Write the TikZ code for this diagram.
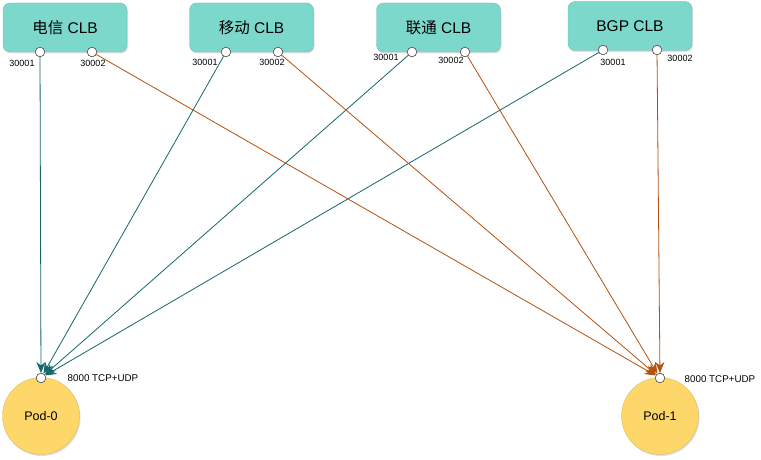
\documentclass[tikz,border=0pt]{standalone}
\usepackage{fontspec}
\setmainfont{Liberation Sans}
\newfontfamily\cjk{Noto Sans CJK SC}
\usetikzlibrary{arrows.meta,shadows}
\definecolor{clbfill}{HTML}{7DD8CC}
\definecolor{podfill}{HTML}{FDD769}
\definecolor{tealline}{HTML}{15676A}
\definecolor{orangeline}{HTML}{B3520F}
\begin{document}
\begin{tikzpicture}[x=1pt,y=-1pt,
  clb/.style={draw=clbfill!85!black, line width=0.3pt, fill=clbfill, rounded corners=7pt, minimum width=124pt, minimum height=49pt, font=\fontsize{15.5}{17}\selectfont, drop shadow={opacity=0.25, shadow xshift=1pt, shadow yshift=-1.5pt}},
  pod/.style={circle, draw=podfill!85!black, line width=0.3pt, fill=podfill, minimum size=77pt, font=\fontsize{12.5}{14}\selectfont, drop shadow={opacity=0.25, shadow xshift=1pt, shadow yshift=-1.5pt}},
  port/.style={circle, draw=black!70, line width=0.5pt, fill=white, minimum size=9.5pt, inner sep=0pt},
  plabel/.style={font=\fontsize{9}{10}\selectfont, inner sep=0pt},
  podlabel/.style={font=\fontsize{9.8}{11}\selectfont, inner sep=0pt},
  tl/.style={draw=tealline, line width=0.8pt, -{Stealth[length=11pt,width=9pt]}},
  ol/.style={draw=orangeline, line width=0.8pt, -{Stealth[length=11pt,width=9pt]}}
]
\useasboundingbox (0,0) rectangle (761,460);
% CLB boxes
\node[clb] (dx) at (65,27.5) {{\cjk 电信} CLB};
\node[clb] (yd) at (251.5,27.5) {{\cjk 移动} CLB};
\node[clb] (lt) at (438.5,27.5) {{\cjk 联通} CLB};
\node[clb] (bgp) at (630,26) {BGP CLB};
% Pods
\node[pod] (p0) at (41,416) {Pod-0};
\node[pod] (p1) at (660,416) {Pod-1};
% ports
\node[port] (dx1) at (40,52) {};
\node[port] (dx2) at (92,52) {};
\node[port] (yd1) at (226,52) {};
\node[port] (yd2) at (278,52) {};
\node[port] (lt1) at (412,52) {};
\node[port] (lt2) at (465,52) {};
\node[port] (bgp1) at (603,50) {};
\node[port] (bgp2) at (657,50) {};
\node[port] (pp0) at (41,378) {};
\node[port] (pp1) at (660,378) {};
% port labels
\node[plabel] (ldx1) at (22,63) {30001};
\node[plabel] (ldx2) at (93,63) {30002};
\node[plabel] (lyd1) at (205,62) {30001};
\node[plabel] (lyd2) at (272,62) {30002};
\node[plabel] (llt1) at (386,57) {30001};
\node[plabel] (llt2) at (451,60) {30002};
\node[plabel] (lbgp1) at (613,62) {30001};
\node[plabel] (lbgp2) at (680,58) {30002};
\node[podlabel] (lp0) at (103,378) {8000 TCP+UDP};
\node[podlabel] (lp1) at (720,379) {8000 TCP+UDP};
% connectors
\draw[tl] (dx1) -- (pp0);
\draw[tl] (yd1) -- (pp0);
\draw[tl] (lt1) -- (pp0);
\draw[tl] (bgp1) -- (pp0);
\draw[ol] (dx2) -- (pp1);
\draw[ol] (yd2) -- (pp1);
\draw[ol] (lt2) -- (pp1);
\draw[ol] (bgp2) -- (pp1);
% redraw ports on top
\foreach \n/\x/\y in {a/40/52,b/92/52,c/226/52,d/278/52,e/412/52,f/465/52,g/603/50,h/657/50,i/41/378,j/660/378}
  \node[port] (top\n) at (\x,\y) {};
\end{tikzpicture}
\end{document}
